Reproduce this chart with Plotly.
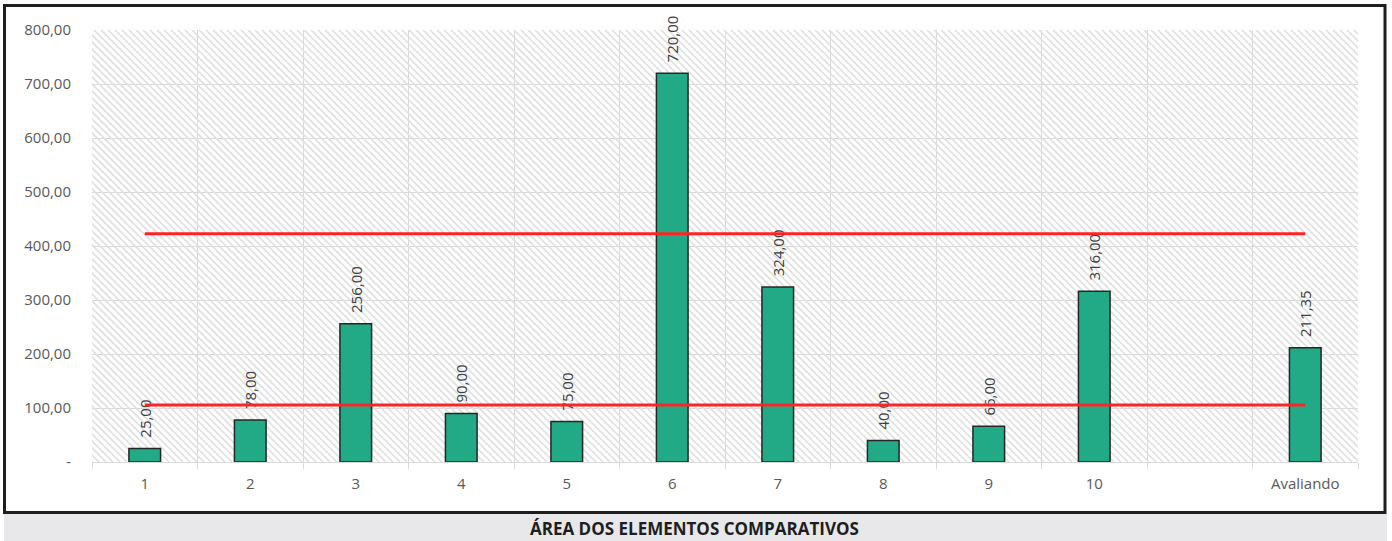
import plotly.graph_objects as go

# ---- data -------------------------------------------------------------
categorias = ["1", "2", "3", "4", "5", "6", "7", "8", "9", "10", " ", "Avaliando"]
areas = [25.00, 78.00, 256.00, 90.00, 75.00, 720.00, 324.00, 40.00, 66.00, 316.00, None, 211.35]
limite_superior = 422.70   # 200% of the appraised area
limite_inferior = 105.68   # 50% of the appraised area
y_tickvals = [0, 100, 200, 300, 400, 500, 600, 700, 800]
y_ticktext = ["-", "100,00", "200,00", "300,00", "400,00", "500,00", "600,00", "700,00", "800,00"]
titulo = "ÁREA DOS ELEMENTOS COMPARATIVOS"

# ---- page geometry (pixels) ------------------------------------------
W, H = 1392, 541
PL, PR, PT, PB = 92, 1358, 30, 462          # plot area edges
pw, ph = PR - PL, PB - PT

def px_x(x):
    return (x - PL) / pw

def px_y(y):
    return (PB - y) / ph

FONT = "Open Sans"
GRID = "#D9D9D9"
TXT = "#595959"

fig = go.Figure()

# diagonal hatch filling the plot background (pixel-unit helper axes)
hx, hy = [], []
step = 7
for c in range(-ph, pw + step, step):
    hx += [c, c + ph, None]
    hy += [ph, 0, None]
fig.add_trace(go.Scatter(
    x=hx, y=hy, mode="lines", xaxis="x", yaxis="y",
    line=dict(color="#E0E0E0", width=1.7),
    hoverinfo="skip", showlegend=False,
))

# bars (non-breaking spaces lift the rotated value label off the bar top)
fig.add_trace(go.Bar(
    x=categorias, y=areas, xaxis="x2", yaxis="y2",
    width=0.3,
    marker=dict(color="#22AA86", line=dict(color="#262626", width=1.5)),
    texttemplate="\u00a0\u00a0%{y:.2f}", textposition="outside", textangle=-90,
    constraintext="none",
    textfont=dict(family=FONT, size=15, color="#404040"),
    cliponaxis=False, showlegend=False,
))

# reference limits
for lim in (limite_superior, limite_inferior):
    fig.add_trace(go.Scatter(
        x=categorias, y=[lim] * len(categorias), xaxis="x2", yaxis="y2",
        mode="lines", line=dict(color="#FF2424", width=3),
        hoverinfo="skip", showlegend=False,
    ))

shapes = [
    # caption strip
    dict(type="rect", xref="paper", yref="paper",
         x0=px_x(4), x1=px_x(1387), y0=px_y(514), y1=px_y(541),
         fillcolor="#E8E8EA", line=dict(width=0), layer="below"),
    # outer frame
    dict(type="rect", xref="paper", yref="paper",
         x0=px_x(4.5), x1=px_x(1385), y0=px_y(5.5), y1=px_y(512.5),
         line=dict(color="#1E1E1E", width=3), fillcolor="rgba(0,0,0,0)"),
]

fig.update_layout(
    width=W, height=H,
    margin=dict(l=PL, r=W - PR, t=PT, b=H - PB),
    paper_bgcolor="white", plot_bgcolor="white",
    separators=",.",
    font=dict(family=FONT, size=15, color=TXT),
    xaxis=dict(range=[0, pw], visible=False, fixedrange=True),
    yaxis=dict(range=[0, ph], visible=False, fixedrange=True),
    xaxis2=dict(
        overlaying="x", anchor="y2", type="category",
        categoryorder="array", categoryarray=categorias,
        range=[-0.5, len(categorias) - 0.5],
        tickson="boundaries", ticks="outside", ticklen=6, tickcolor=GRID,
        ticklabelstandoff=8,
        showgrid=True, gridcolor=GRID, gridwidth=1,
        showline=True, linecolor=GRID, linewidth=1,
        tickfont=dict(family=FONT, size=15, color=TXT),
        zeroline=False,
    ),
    yaxis2=dict(
        overlaying="y", anchor="x2", range=[0, 800],
        tickvals=y_tickvals, ticktext=y_ticktext,
        showgrid=True, gridcolor=GRID, gridwidth=1,
        ticks="", ticklabelstandoff=20,
        tickfont=dict(family=FONT, size=15, color=TXT),
        zeroline=False, showline=False,
    ),
    shapes=shapes,
    annotations=[dict(
        text=f"<b>{titulo}</b>", xref="paper", yref="paper",
        x=px_x(694), y=px_y(528), xanchor="center", yanchor="middle",
        showarrow=False, font=dict(family=FONT, size=17, color="#1E1E1E"),
    )],
)

fig.write_html("out.html")
